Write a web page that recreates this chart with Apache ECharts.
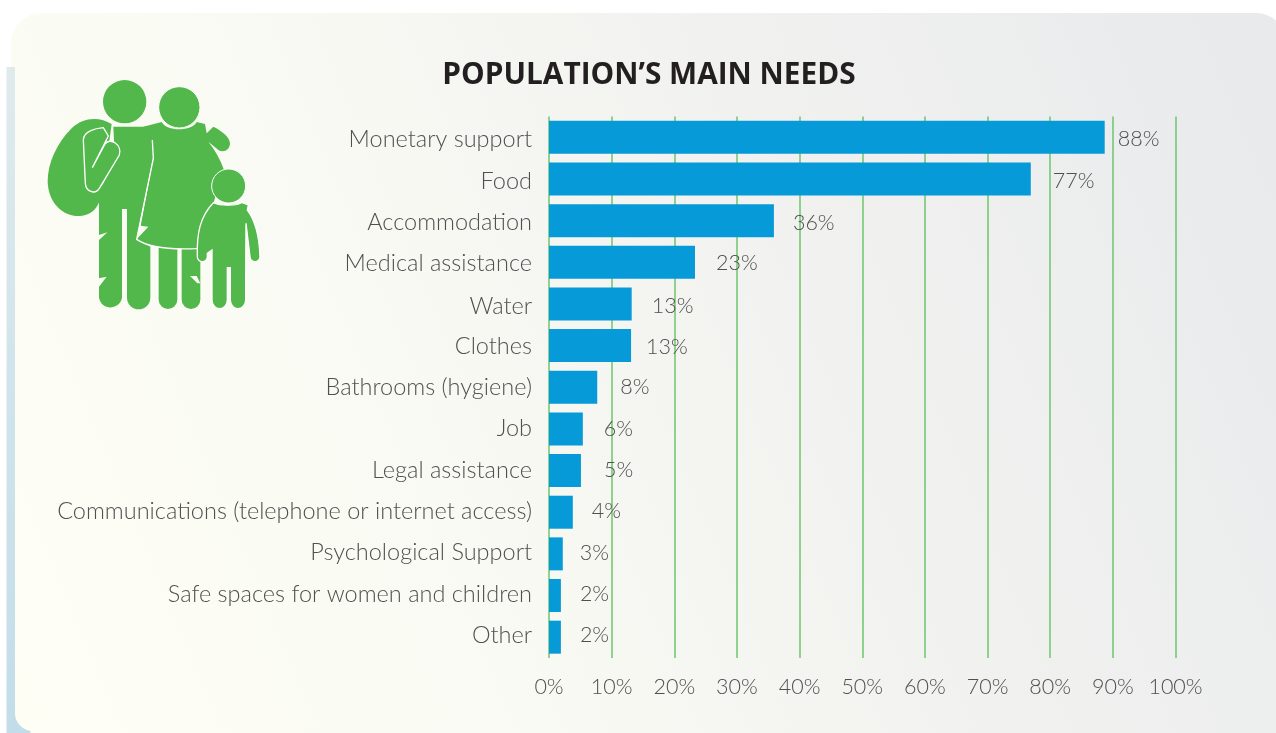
<!DOCTYPE html>
<html><head><meta charset="utf-8">
<style>html,body{margin:0;padding:0;background:#fff}#c{width:1276px;height:733px}</style>
<script src="https://cdn.jsdelivr.net/npm/echarts@6/dist/echarts.min.js"></script>
</head><body><div id="c"></div>
<script>
const categories = ['Monetary support','Food','Accommodation','Medical assistance','Water','Clothes','Bathrooms (hygiene)','Job','Legal assistance','Communications (telephone or internet access)','Psychological Support','Safe spaces for women and children','Other'];
const values = [88.7,76.9,35.9,23.3,13.2,13.1,7.7,5.4,5.1,3.8,2.2,1.9,1.9];
const valueLabels = ['88%','77%','36%','23%','13%','13%','8%','6%','5%','4%','3%','2%','2%'];
const labelGaps = [13,22,19,21,20,15,23,21,23,19,17,19,19];
const labelDrift = [2,2,2,1,2,1,0,0,0,-1,-1,-1,-2];
const tickStep = 10;

const FONT = 'Lato';
const TEXT = '#505050';
const GREEN = '#52b84b';
const gridGreen = '#6fc46c';
const bg = {type:'linear',x:0,y:733,x2:1276,y2:200,global:true,
  colorStops:[{offset:0,color:'#fefef5'},{offset:0.35,color:'#f9faf3'},{offset:1,color:'#e9eaec'}]};
const strip = {type:'linear',x:0,y:67,x2:0,y2:733,global:true,
  colorStops:[{offset:0,color:'#dfeaed'},{offset:1,color:'#c2dde9'}]};

const iconPaths = {
  sack:'M335,372 C300,350 250,350 215,385 C170,430 143,490 143,545 C145,610 190,650 240,648 C270,646 290,630 300,600 L320,480 Z',
  man:'M340,380 L455,380 L460,470 L410,715 L451,740 L451,893 A35,35 0 0 1 381,893 L381,627 L366,627 L366,893 A35,35 0 0 1 297,893 L297,860 L320,830 L297,835 L297,720 L322,697 L297,705 L297,575 L345,480 Z',
  hand:'M310,383 C285,385 250,395 250,420 L256,550 C258,575 285,585 298,565 L358,465 C368,435 330,410 315,432 L277,503 L325,408 Z',
  legs:'M476,740 L532,740 L532,899 A28,28 0 0 1 476,899 Z M545,740 L601,740 L601,850 L590,828 L570,828 L592,850 L601,850 L601,899 A28,28 0 0 1 545,899 Z',
  dress:'M430,380 L485,366 C500,395 575,395 590,366 L615,372 L620,400 L640,380 C665,392 690,412 690,430 C690,450 670,460 655,450 L625,425 C645,450 662,480 672,510 L640,610 L600,745 C520,750 450,745 410,718 L445,680 L422,677 L460,475 L457,420 Z',
  dressEdge:'M457,420 L460,475 L410,718 C450,745 520,750 600,745',
  child:'M640,608 C660,618 715,618 725,607 L745,615 L742,630 C765,660 778,710 780,770 A15,15 0 0 1 750,770 L738,670 L737,838 L737,900 A23,26 0 0 1 691,900 L691,803 L682,803 L682,900 A23,26 0 0 1 636,900 L636,750 L622,760 L622,770 A15,15 0 0 1 592,770 C590,700 600,650 640,608 Z'
};
Object.keys(iconPaths).forEach(k=>{
  echarts.graphic.registerShape('icon_'+k, echarts.graphic.extendPath(iconPaths[k],{}));
});
const p = (k,stroke)=>({type:'icon_'+k,style:{fill:GREEN,stroke:stroke?'#fff':null,lineWidth:stroke?4:0}});
const edge = k=>({type:'icon_'+k,style:{fill:'none',stroke:'#fff',lineWidth:4}});
const c = (x,y,r,stroke)=>({type:'circle',shape:{cx:x,cy:y,r},style:{fill:GREEN,stroke:stroke?'#fff':null,lineWidth:stroke?3:0}});

const catStyle = {fontFamily:FONT,fontSize:23.5,fontWeight:300,color:TEXT};
const catRich = {};
labelDrift.forEach((d,i)=>{
  catRich['s'+i] = Object.assign({},catStyle,{padding:d>0?[2*d,0,0,0]:[0,0,-2*d,0]});
});

const chart = echarts.init(document.getElementById('c'));
chart.setOption({
  animation:false,
  backgroundColor:'#ffffff',
  title:{text:'POPULATION’S MAIN NEEDS',left:644,top:56,textAlign:'center',
    textStyle:{fontFamily:'Open Sans',fontWeight:'bold',fontSize:29.8,color:'#231f20'}},
  grid:{left:549,top:116.5,width:626.5,height:541.5,containLabel:false},
  xAxis:{type:'value',min:0,max:100,interval:tickStep,
    axisLine:{show:false},axisTick:{show:false},
    axisLabel:{formatter:'{value}%',margin:18,fontFamily:FONT,fontSize:21.5,fontWeight:300,color:TEXT},
    splitLine:{show:true,lineStyle:{color:gridGreen,width:1.5}}},
  yAxis:{type:'category',data:categories,inverse:true,
    axisLine:{show:false},axisTick:{show:false},
    axisLabel:Object.assign({margin:17,rich:catRich,
      formatter:v=>'{s'+categories.indexOf(v)+'|'+v+'}'},catStyle)},
  series:[{type:'bar',barWidth:33,
    itemStyle:{color:'#069ad8'},
    data:values.map((v,i)=>({value:v,label:{distance:labelGaps[i],offset:[0,labelDrift[i]]}})),
    label:{show:true,position:'right',fontFamily:FONT,fontSize:21.5,fontWeight:300,color:TEXT,
      formatter:o=>valueLabels[o.dataIndex]}}],
  graphic:{elements:[
    {type:'rect',z:-10,silent:true,shape:{x:11,y:13,width:1275,height:760,r:[30,30,0,0]},style:{fill:bg}},
    {type:'rect',z:-9,silent:true,shape:{x:6.5,y:67,width:24,height:690,r:[0,0,0,30]},style:{fill:strip}},
    {type:'rect',z:-8,silent:true,shape:{x:15,y:50,width:100,height:681,r:[0,0,0,18]},style:{fill:bg}},
    {type:'group',z:1,scaleX:1/3,scaleY:1/3,silent:true,children:[
      p('sack'),p('legs'),p('man'),p('hand',true),c(374,305,65),
      p('dress'),edge('dressEdge'),c(538,322,62,true),p('child',true),c(686,558,51,true)
    ]}
  ]}
});
</script></body></html>
